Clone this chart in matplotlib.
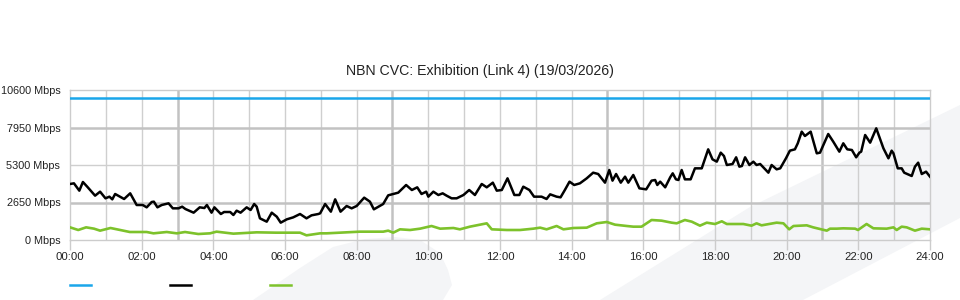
import matplotlib
matplotlib.use("Agg")
import matplotlib.pyplot as plt
from matplotlib.lines import Line2D
from matplotlib.patches import Polygon

plt.rcParams["font.family"] = ["Liberation Sans", "DejaVu Sans"]

# ---- data (hours of day, Mbps) ----
title = "NBN CVC: Exhibition (Link 4) (19/03/2026)"
y_ticks = [0, 2650, 5300, 7950, 10600]
y_labels = [f"{v} Mbps" for v in y_ticks]
x_ticks = list(range(0, 25, 2))
x_labels = [f"{h:02d}:00" for h in x_ticks]

capacity_hours = [0, 24]
capacity_mbps = [10000, 10000]

used_hours = [
    0.00, 0.11, 0.26, 0.36, 0.48, 0.70, 0.84, 0.99, 1.10, 1.18, 1.26, 1.51, 1.68, 1.86,
    2.03, 2.14, 2.28, 2.34, 2.44, 2.56, 2.75, 2.87, 3.03, 3.13, 3.22, 3.45, 3.62, 3.75,
    3.82, 3.95, 4.03, 4.21, 4.30, 4.47, 4.56, 4.65, 4.76, 4.93, 5.04, 5.14, 5.21, 5.30,
    5.49, 5.63, 5.77, 5.88, 6.05, 6.23, 6.42, 6.60, 6.74, 6.93, 6.98, 7.12, 7.28, 7.40,
    7.55, 7.72, 7.86, 8.00, 8.21, 8.37, 8.48, 8.74, 8.88, 9.16, 9.38, 9.54, 9.69, 9.81,
    9.94, 10.00, 10.14, 10.28, 10.40, 10.51, 10.65, 10.79, 10.98, 11.14, 11.30, 11.49,
    11.63, 11.80, 11.91, 12.05, 12.21, 12.40, 12.54, 12.65, 12.82, 12.95, 13.16, 13.30,
    13.40, 13.58, 13.69, 13.81, 13.94, 14.07, 14.23, 14.42, 14.60, 14.74, 14.93, 15.05,
    15.14, 15.24, 15.37, 15.49, 15.58, 15.72, 15.89, 16.08, 16.23, 16.33, 16.39, 16.47,
    16.61, 16.75, 16.82, 16.91, 16.98, 17.07, 17.16, 17.32, 17.44, 17.63, 17.81, 17.93,
    18.05, 18.16, 18.25, 18.33, 18.49, 18.59, 18.68, 18.75, 18.84, 18.96, 19.07, 19.16,
    19.26, 19.49, 19.58, 19.72, 19.82, 19.98, 20.09, 20.23, 20.31, 20.42, 20.51, 20.67,
    20.84, 20.93, 21.16, 21.30, 21.47, 21.58, 21.69, 21.82, 21.94, 22.03, 22.08, 22.19,
    22.33, 22.50, 22.70, 22.84, 22.93, 22.98, 23.10, 23.21, 23.28, 23.49, 23.58, 23.67,
    23.77, 23.89, 24.00,
]
used_mbps = [
    3958, 4005, 3486, 4099, 3769, 3133, 3415, 2945, 3062, 2874, 3251, 2898, 3298, 2473,
    2473, 2308, 2685, 2709, 2308, 2473, 2591, 2238, 2238, 2356, 2190, 1931, 2308, 2260,
    2473, 1931, 2308, 1837, 1978, 1978, 1766, 2072, 1931, 2308, 2120, 2544, 2356, 1531,
    1295, 1931, 1649, 1225, 1460, 1601, 1837, 1531, 1743, 1837, 1884, 2544, 2002, 2874,
    2002, 2403, 2238, 2403, 2992, 2709, 2167, 2544, 3157, 3345, 3887, 3533, 3722, 3251,
    3415, 3062, 3415, 3180, 3298, 3133, 2945, 2945, 3180, 3533, 3180, 3958,
    3722, 4052, 3486, 3533, 4358, 3180, 3180, 3769, 3533, 3062, 3062, 2898,
    3227, 3062, 3015, 3533, 4123, 3887, 4005, 4358, 4758, 4664, 4052, 4947,
    4194, 4664, 4052, 4476, 4052, 4594, 3651, 3580, 4194, 4240, 3887, 4123,
    3722, 4429, 4711, 4287, 4240, 4947, 4287, 4287, 5064, 5064, 6408, 5701,
    5536, 6172, 5936, 5300, 5371, 5843, 5182, 5229, 5843, 5300, 5536, 5300,
    5371, 4758, 5300, 4994, 5064, 5772, 6314, 6408, 6832, 7656, 7350, 7656,
    6125, 6172, 7491, 6950, 6243, 6832, 6408, 6360, 5843, 6172, 6243, 7420,
    6879, 7892, 6479, 5772, 6314, 6125, 5064, 5064, 4758, 4523, 5182, 5465,
    4664, 4829, 4476,
]

avg_hours = [
    0.00, 0.23, 0.45, 0.67, 0.84, 1.13, 1.40, 1.67, 2.14, 2.33, 2.70, 2.98, 3.21, 3.58,
    3.91, 4.09, 4.56, 5.21, 5.74, 6.42, 6.60, 6.98, 7.16, 8.09, 8.74, 8.88, 9.02, 9.21,
    9.49, 9.77, 10.09, 10.33, 10.70, 10.88, 11.16, 11.63, 11.77, 12.19, 12.56, 12.93,
    13.12, 13.30, 13.58, 13.77, 14.05, 14.42, 14.70, 14.98, 15.21, 15.54, 15.72, 15.95,
    16.23, 16.51, 16.79, 16.93, 17.16, 17.35, 17.58, 17.77, 18.00, 18.19, 18.33, 18.79,
    19.02, 19.16, 19.30, 19.72, 19.91, 20.07, 20.19, 20.56, 20.74, 21.12, 21.21, 21.40,
    21.58, 21.91, 21.99, 22.23, 22.42, 22.79, 22.98, 23.07, 23.21, 23.35, 23.58, 23.77,
    24.00,
]
avg_mbps = [
    895, 707, 895, 801, 660, 848, 707, 565, 565, 471, 565, 471, 565, 424,
    471, 589, 448, 542, 518, 518, 330, 471, 471, 589, 589, 660, 518, 754,
    707, 801, 989, 801, 848, 754, 942, 1178, 754, 707, 707, 801,
    872, 754, 989, 754, 848, 872, 1178, 1272, 1083, 989, 942, 942,
    1413, 1366, 1225, 1178, 1413, 1296, 1013, 1225, 1130, 1320, 1130, 1130,
    1013, 1178, 1036, 1225, 1178, 754, 989, 1036, 894, 660, 801, 801,
    825, 801, 707, 1130, 825, 801, 894, 707, 942, 894, 660, 801,
    754,
]

fig = plt.figure(figsize=(9.6, 3.0), dpi=100)
W, H = 960, 300

# light watermark shapes behind the chart (figure pixel space)
wm = "#f4f5f7"
blob = [(253, 300), (300, 268), (333, 247), (365, 239), (395, 237), (420, 240),
        (440, 253), (448, 270), (452, 285), (443, 300)]
band = [(600, 300), (750, 207), (960, 105), (960, 218), (803, 300)]
for shape in (blob, band):
    pts = [(x / W, 1 - y / H) for x, y in shape]
    fig.patches.append(Polygon(pts, closed=True, transform=fig.transFigure,
                               facecolor=wm, edgecolor="none", zorder=-5))

ax = fig.add_axes([70 / W, 60 / H, 860 / W, 150 / H])
ax.set_zorder(2)
ax.set_facecolor("none")
ax.set_xlim(0, 24)
ax.set_ylim(0, 10600)

# grid: thin every hour / major every 6h from 03:00, horizontal majors at 2650, 7950
for h in range(1, 24):
    major = h % 6 == 3
    ax.axvline(h, color="#c2c2c2" if major else "#cfcfcf",
               lw=1.8 if major else 1.0, zorder=1)
for v in y_ticks[1:-1]:
    major = v in (2650, 7950)
    ax.axhline(v, color="#c2c2c2" if major else "#cfcfcf",
               lw=1.8 if major else 1.0, zorder=1)

ax.plot(capacity_hours, capacity_mbps, color="#1aa6ea", lw=1.8, zorder=3)
ax.plot(used_hours, used_mbps, color="#000000", lw=1.8, zorder=3)
ax.plot(avg_hours, avg_mbps, color="#7dc22b", lw=1.9, zorder=3)

for s in ax.spines.values():
    s.set_color("#cccccc")
    s.set_linewidth(1.0)

ax.set_xticks(x_ticks)
ax.set_xticklabels(x_labels)
ax.set_yticks(y_ticks)
ax.set_yticklabels(y_labels)
ax.tick_params(axis="x", length=7.5, width=1.0, color="#cccccc", pad=1,
               labelsize=8.2, labelcolor="#222222")
ax.tick_params(axis="y", length=0, pad=7, labelsize=7.8, labelcolor="#222222")

fig.text(0.5, 1 - 71 / H, title, ha="center", va="center", fontsize=10.2, color="#222222")

# legend swatches with no labels
for x0, col in ((70, "#1aa6ea"), (170, "#000000"), (270, "#7dc22b")):
    fig.add_artist(Line2D([x0 / W, (x0 + 21) / W], [1 - 285 / H] * 2,
                          transform=fig.transFigure, color=col, lw=1.8))

fig.savefig("out.png", dpi=100)
